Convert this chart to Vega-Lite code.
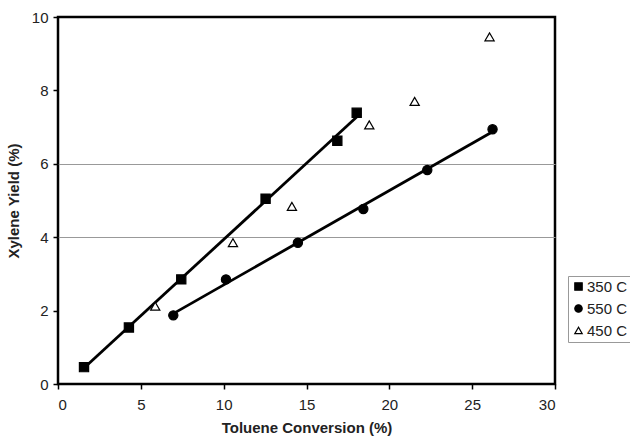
{
  "$schema": "https://vega.github.io/schema/vega-lite/v6.json",
  "autosize": "none",
  "width": 497,
  "height": 367,
  "padding": {"left": 58, "top": 17, "right": 75, "bottom": 54},
  "background": "white",
  "config": {
    "font": "Liberation Sans",
    "view": {"stroke": "black", "strokeWidth": 2.5},
    "legend": {
      "orient": "none", "legendX": 510, "legendY": 259,
      "labelFontSize": 15, "labelColor": "#222", "symbolStrokeWidth": 1.2,
      "strokeColor": "#999", "padding": 3, "rowPadding": 6, "labelOffset": 1,
      "symbolSize": 55
    }
  },
  "data": {
    "values": [
      {"series": "350 C", "conv": 1.57, "yield": 0.46},
      {"series": "350 C", "conv": 4.28, "yield": 1.54},
      {"series": "350 C", "conv": 7.44, "yield": 2.85},
      {"series": "350 C", "conv": 12.53, "yield": 5.05},
      {"series": "350 C", "conv": 16.86, "yield": 6.63},
      {"series": "350 C", "conv": 18.03, "yield": 7.39},
      {"series": "550 C", "conv": 6.96, "yield": 1.87},
      {"series": "550 C", "conv": 10.14, "yield": 2.85},
      {"series": "550 C", "conv": 14.48, "yield": 3.85},
      {"series": "550 C", "conv": 18.43, "yield": 4.77},
      {"series": "550 C", "conv": 22.29, "yield": 5.83},
      {"series": "550 C", "conv": 26.23, "yield": 6.94},
      {"series": "450 C", "conv": 5.87, "yield": 2.12},
      {"series": "450 C", "conv": 10.56, "yield": 3.85},
      {"series": "450 C", "conv": 14.12, "yield": 4.84},
      {"series": "450 C", "conv": 18.79, "yield": 7.06},
      {"series": "450 C", "conv": 21.53, "yield": 7.7},
      {"series": "450 C", "conv": 26.05, "yield": 9.46}
    ]
  },
  "layer": [
    {
      "transform": [
        {"filter": "datum.series != '450 C'"},
        {"regression": "yield", "on": "conv", "groupby": ["series"]}
      ],
      "mark": {"type": "line", "color": "black", "strokeWidth": 2.8},
      "encoding": {
        "x": {"field": "conv", "type": "quantitative"},
        "y": {"field": "yield", "type": "quantitative"},
        "detail": {"field": "series"}
      }
    },
    {
      "mark": {"type": "point", "filled": false, "strokeWidth": 1.2, "opacity": 1, "size": 85},
      "encoding": {
        "x": {
          "field": "conv", "type": "quantitative",
          "scale": {"domain": [0, 30], "nice": false},
          "axis": {
            "values": [0, 5, 10, 15, 20, 25, 30],
            "title": "Toluene Conversion (%)",
            "titleFontSize": 15, "titleFontWeight": "bold", "titleColor": "#222", "titlePadding": 8,
            "labelFontSize": 15, "labelColor": "#222", "labelPadding": 8,
            "tickSize": 5, "tickColor": "black", "tickWidth": 1.5,
            "domain": false, "grid": false
          }
        },
        "y": {
          "field": "yield", "type": "quantitative",
          "scale": {"domain": [0, 10], "nice": false},
          "axis": {
            "values": [0, 2, 4, 6, 8, 10],
            "title": "Xylene Yield (%)",
            "titleFontSize": 15, "titleFontWeight": "bold", "titleColor": "#222", "titlePadding": 10,
            "labelFontSize": 15, "labelColor": "#222", "labelPadding": 5,
            "tickSize": 5, "tickColor": "black", "tickWidth": 1.5,
            "domain": false, "grid": true, "gridColor": "#999", "gridWidth": 1,
            "gridOpacity": {"condition": {"test": "datum.value == 4 || datum.value == 6", "value": 1}, "value": 0}
          }
        },
        "shape": {
          "field": "series", "type": "nominal",
          "scale": {"domain": ["350 C", "550 C", "450 C"], "range": ["square", "circle", "triangle-up"]},
          "legend": {"title": null}
        },
        "fill": {
          "field": "series", "type": "nominal",
          "scale": {"domain": ["350 C", "550 C", "450 C"], "range": ["black", "black", "white"]},
          "legend": {"title": null}
        },
        "stroke": {
          "field": "series", "type": "nominal",
          "scale": {"domain": ["350 C", "550 C", "450 C"], "range": ["black", "black", "black"]},
          "legend": {"title": null}
        }
      }
    }
  ]
}
